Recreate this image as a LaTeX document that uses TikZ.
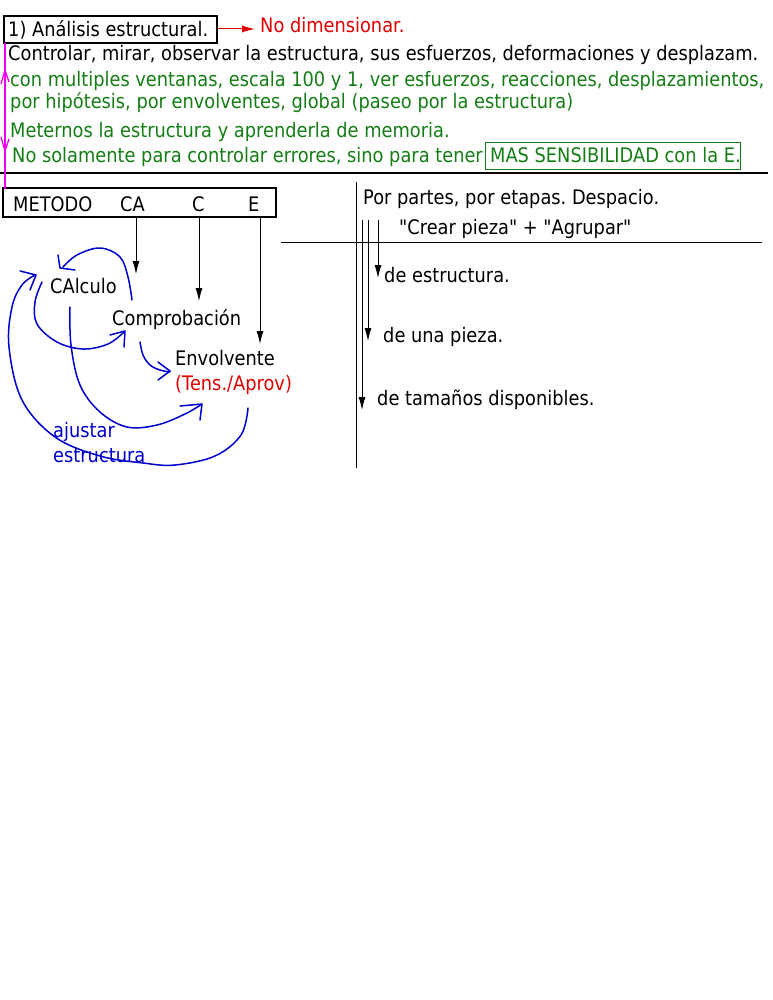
\documentclass[tikz,border=0pt]{standalone}
\usepackage{fontspec}
\newfontfamily\tah[FakeStretch=0.89]{DejaVu Sans}
\usetikzlibrary{arrows.meta,fit}
\definecolor{grn}{RGB}{20,125,20}
\definecolor{rd}{RGB}{225,0,0}
\definecolor{bl}{RGB}{0,0,205}
\definecolor{mg}{RGB}{240,0,240}
\frenchspacing
\begin{document}
\begin{tikzpicture}[x=1pt,y=-1pt,
  t/.style={font=\tah\fontsize{20}{23}\selectfont\frenchspacing, inner sep=0pt, anchor=base west},
  g/.style={t, text=grn},
  frame/.style={draw, line width=1.3pt, inner sep=0pt},
  thin/.style={line width=0.9pt, -{Latex[length=13pt,width=7pt]}},
  hand/.style={bl, line width=1.5pt, line cap=round, line join=round}]
\useasboundingbox (0,0) rectangle (772,1000);

% header
\node[t] (t1) at (8,37) {1) Análisis estructural.};
\node[frame, fit={(4,16) (217,43)}] (b1) {};
\node[t, text=rd] (nodim) at (260,33) {No dimensionar.};
\draw[rd, line width=1pt, -{Latex[length=13pt,width=7pt]}] (b1.east |- 0,29) -- (255,29) coordinate (nodimtip);
\node[t] (l2) at (8,61) {Controlar, mirar, observar la estructura, sus esfuerzos, deformaciones y desplazam.};
\node[g] (l3) at (10,87) {con multiples ventanas, escala 100 y 1, ver esfuerzos, reacciones, desplazamientos,};
\node[g] (l4) at (10,109) {por hipótesis, por envolventes, global (paseo por la estructura)};
\node[g] (l5) at (10,138) {Meternos la estructura y aprenderla de memoria.};
\node[g] (l6) at (12,163) {No solamente para controlar errores, sino para tener};
\node[g] (mas) at (490,163) {MAS SENSIBILIDAD con la E};
\node[g] (dot) at (mas.base east) {.};
\node[draw=grn, line width=1pt, inner xsep=5pt, inner ysep=0pt, fit={(mas.west |- 0,143) (mas.east |- 0,170)}] (masbox) {};
\draw[line width=2pt] (0,173) -- (768,173);

% METODO box
\node[t] (met) at (13,212) {METODO};
\node[t] (mCA) at (120,212) {CA};
\node[t] (mC) at (192,212) {C};
\node[t] (mE) at (248,212) {E};
\node[frame, fit={(3,188) (276,217)}] (metodo) {};

% magenta link
\draw[mg, line width=1.5pt] (5,43) -- (5,189);
\draw[mg, line width=1.3pt] (1,84) -- (5,70) -- (9,82);
\draw[mg, line width=1.3pt] (1,137) -- (5,151) -- (9,139);

% nodes
\node[t] (calc) at (50,293) {CAlculo};
\node[t] (comp) at (112,325) {Comprobación};
\node[t] (env) at (175,365) {Envolvente};
\node[t, text=rd] (tens) at (175,390) {(Tens./Aprov)};
\node[t, text=bl] (aj1) at (53,437) {ajustar};
\node[t, text=bl] (aj2) at (53,462) {estructura};

% arrows from METODO
\draw[thin] (136,217) -- (136,274);
\draw[thin] (199,217) -- (199,301);
\draw[thin] (260,217) -- (260,344);

% blue hand drawn curves
\draw[hand] plot[smooth, tension=0.6] coordinates {(132,300) (128,277) (120,257) (100,248) (77,255) (63,267)};
\draw[hand] (58,255) -- (60,268) -- (75,270);
\draw[hand] plot[smooth, tension=0.6] coordinates {(42,282) (35,302) (37,324) (57,342) (83,349) (108,344) (124,332)};
\draw[hand] (110,335) -- (125,331) -- (124,347);
\draw[hand] plot[smooth, tension=0.6] coordinates {(140,342) (143,355) (150,365) (160,370) (170,372)};
\draw[hand] (158,362) -- (170,371) -- (158,380);
\draw[hand] plot[smooth, tension=0.6] coordinates {(70,307) (71,345) (80,385) (100,412) (127,427) (157,425) (185,414) (202,404)};
\draw[hand] (180,406) -- (202,404) -- (200,420);
\draw[hand] plot[smooth, tension=0.6] coordinates {(248,408) (241,435) (215,456) (175,465) (143,463) (100,456) (55,437) (22,400) (9,347) (12,307) (22,285) (35,275)};
\draw[hand] (20,271) -- (36,275) -- (30,290);

% right side
\draw[line width=1pt] (356,182) -- (356,468);
\draw[line width=1pt] (281,242) -- (762,242);
\node[t] (por) at (363,205) {Por partes, por etapas. Despacio.};
\node[t] (crear) at (399,234) {"Crear pieza" + "Agrupar"};
\node[t] (dest) at (384,282) {de estructura.};
\node[t] (duna) at (383,342) {de una pieza.};
\node[t] (dtam) at (377,405) {de tamaños disponibles.};
\draw[thin] (378,220) -- (378,278);
\draw[thin] (368,220) -- (368,341);
\draw[thin] (362,220) -- (362,410);
\end{tikzpicture}
\end{document}
